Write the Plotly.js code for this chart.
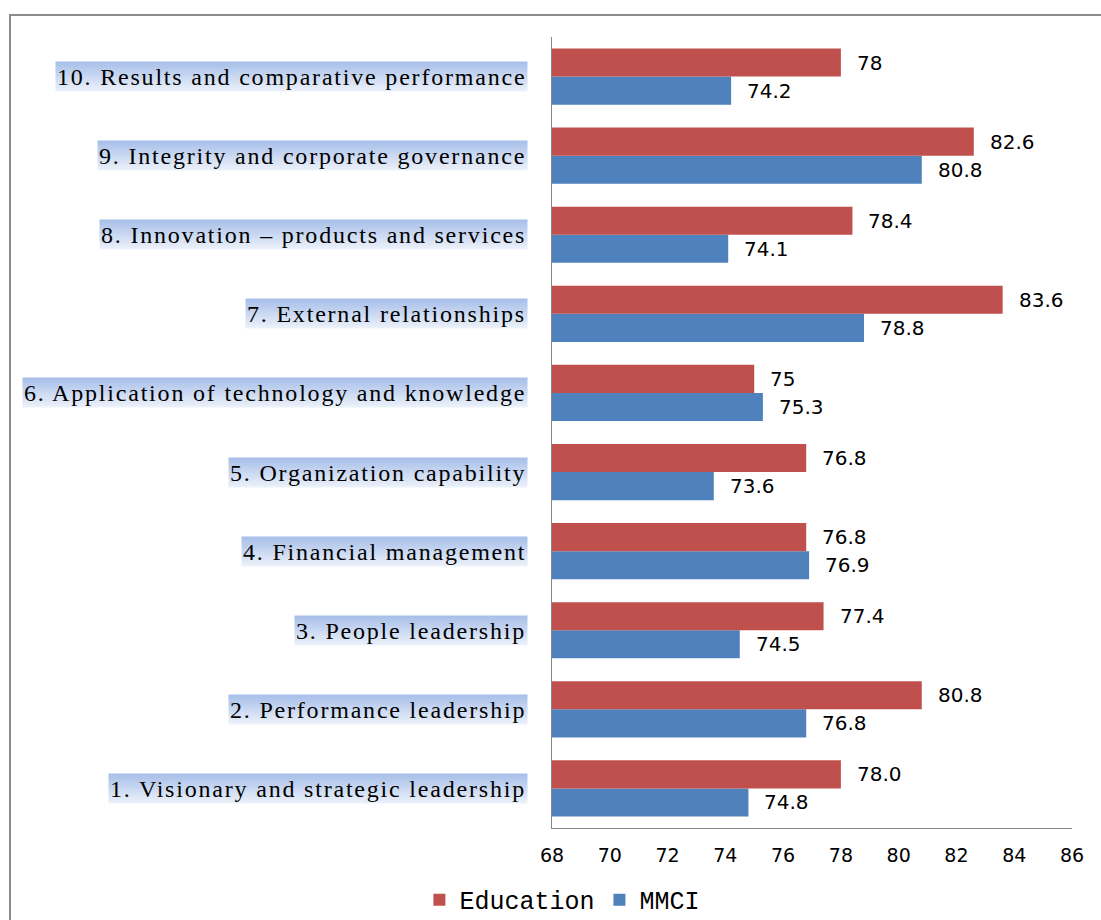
<!DOCTYPE html>
<html>
<head>
<meta charset="utf-8">
<script src="https://cdn.plot.ly/plotly-3.0.1.min.js"></script>
<style>
  html, body { margin: 0; padding: 0; background: #ffffff; }
  #chart { width: 1101px; height: 920px; }
  text.annotation-text[style*="Liberation Serif"] { letter-spacing: 1.8px; }
  g.annotation[data-index="0"] rect.bg, g.annotation[data-index="1"] rect.bg,
  g.annotation[data-index="2"] rect.bg, g.annotation[data-index="3"] rect.bg,
  g.annotation[data-index="4"] rect.bg, g.annotation[data-index="5"] rect.bg,
  g.annotation[data-index="6"] rect.bg, g.annotation[data-index="7"] rect.bg,
  g.annotation[data-index="8"] rect.bg, g.annotation[data-index="9"] rect.bg {
    fill: url(#labelGrad) !important; fill-opacity: 1 !important;
  }
</style>
</head>
<body>
<svg width="0" height="0" style="position:absolute">
  <defs>
    <linearGradient id="labelGrad" x1="0" y1="0" x2="0" y2="1">
      <stop offset="0" stop-color="#a6bee9"/>
      <stop offset="1" stop-color="#edf2fa"/>
    </linearGradient>
  </defs>
</svg>
<div id="chart"></div>
<script>
// ---- data (bottom to top) ----
const categories = [
  "1. Visionary and strategic leadership",
  "2. Performance leadership",
  "3. People leadership",
  "4. Financial management",
  "5. Organization capability",
  "6. Application of technology and knowledge",
  "7. External relationships",
  "8. Innovation \u2013 products and services",
  "9. Integrity and corporate governance",
  "10. Results and comparative performance"
];
const educationValues = [78.0, 80.8, 77.4, 76.8, 76.8, 75.0, 83.6, 78.4, 82.6, 78.0];
const educationLabels = ["78.0", "80.8", "77.4", "76.8", "76.8", "75", "83.6", "78.4", "82.6", "78"];
const mmciValues = [74.8, 76.8, 74.5, 76.9, 73.6, 75.3, 78.8, 74.1, 80.8, 74.2];
const mmciLabels = ["74.8", "76.8", "74.5", "76.9", "73.6", "75.3", "78.8", "74.1", "80.8", "74.2"];
const seriesNames = ["Education", "MMCI"];
const xTicks = [68, 70, 72, 74, 76, 78, 80, 82, 84, 86];

const RED = "#C0504D", BLUE = "#4F81BD";

const traces = [
  { type: "bar", orientation: "h", name: seriesNames[1], y: categories, x: mmciValues,
    marker: { color: BLUE }, hoverinfo: "x" },
  { type: "bar", orientation: "h", name: seriesNames[0], y: categories, x: educationValues,
    marker: { color: RED }, hoverinfo: "x" }
];

const annotations = [];
// category labels first (indices 0..9, styled with the gradient highlight)
categories.forEach((c) => {
  annotations.push({
    xref: "paper", yref: "y", x: 0, y: c, xanchor: "right", yanchor: "middle",
    xshift: -24, text: c, showarrow: false, height: 27,
    font: { family: "Liberation Serif, Times New Roman, serif", size: 24, color: "#000" },
    bgcolor: "#c3d3ee", borderpad: 1
  });
});
categories.forEach((c, i) => {
  annotations.push({
    xref: "x", yref: "y", x: educationValues[i], y: c, xanchor: "left", yanchor: "middle",
    xshift: 14, yshift: 14, text: educationLabels[i], showarrow: false,
    font: { family: "DejaVu Sans, Verdana, sans-serif", size: 20, color: "#000" }
  });
  annotations.push({
    xref: "x", yref: "y", x: mmciValues[i], y: c, xanchor: "left", yanchor: "middle",
    xshift: 14, yshift: -14, text: mmciLabels[i], showarrow: false,
    font: { family: "DejaVu Sans, Verdana, sans-serif", size: 20, color: "#000" }
  });
});

const layout = {
  width: 1101, height: 920,
  margin: { l: 552, r: 29, t: 37, b: 92, pad: 0, autoexpand: false },
  paper_bgcolor: "#ffffff", plot_bgcolor: "#ffffff",
  barmode: "group", bargap: 0.29, bargroupgap: 0,
  showlegend: true,
  legend: { orientation: "h", x: 0.02, xanchor: "center", y: -0.091, yanchor: "middle",
    traceorder: "reversed",
    font: { family: "Liberation Mono, Courier New, monospace", size: 25, color: "#000" },
    itemwidth: 30 },
  xaxis: {
    range: [68, 86], tickvals: xTicks, ticktext: xTicks.map(String),
    showgrid: false, zeroline: false,
    showline: true, linecolor: "#888888", linewidth: 1,
    ticks: "", ticklen: 0, ticklabelstandoff: 10,
    tickfont: { family: "DejaVu Sans, Verdana, sans-serif", size: 19, color: "#000" }
  },
  yaxis: {
    type: "category", categoryorder: "array", categoryarray: categories,
    showticklabels: false, showgrid: false, zeroline: false,
    showline: true, linecolor: "#888888", linewidth: 1, ticks: ""
  },
  annotations: annotations,
  shapes: [{
    type: "rect", xref: "paper", yref: "paper",
    x0: (10 - 552) / 520, x1: 1.2, y0: -0.2, y1: 1 + (37 - 15) / 791,
    line: { color: "#8c8c8c", width: 2 }, fillcolor: "rgba(0,0,0,0)", layer: "below"
  }]
};

Plotly.newPlot("chart", traces, layout, { displayModeBar: false, staticPlot: true });
</script>
</body>
</html>
